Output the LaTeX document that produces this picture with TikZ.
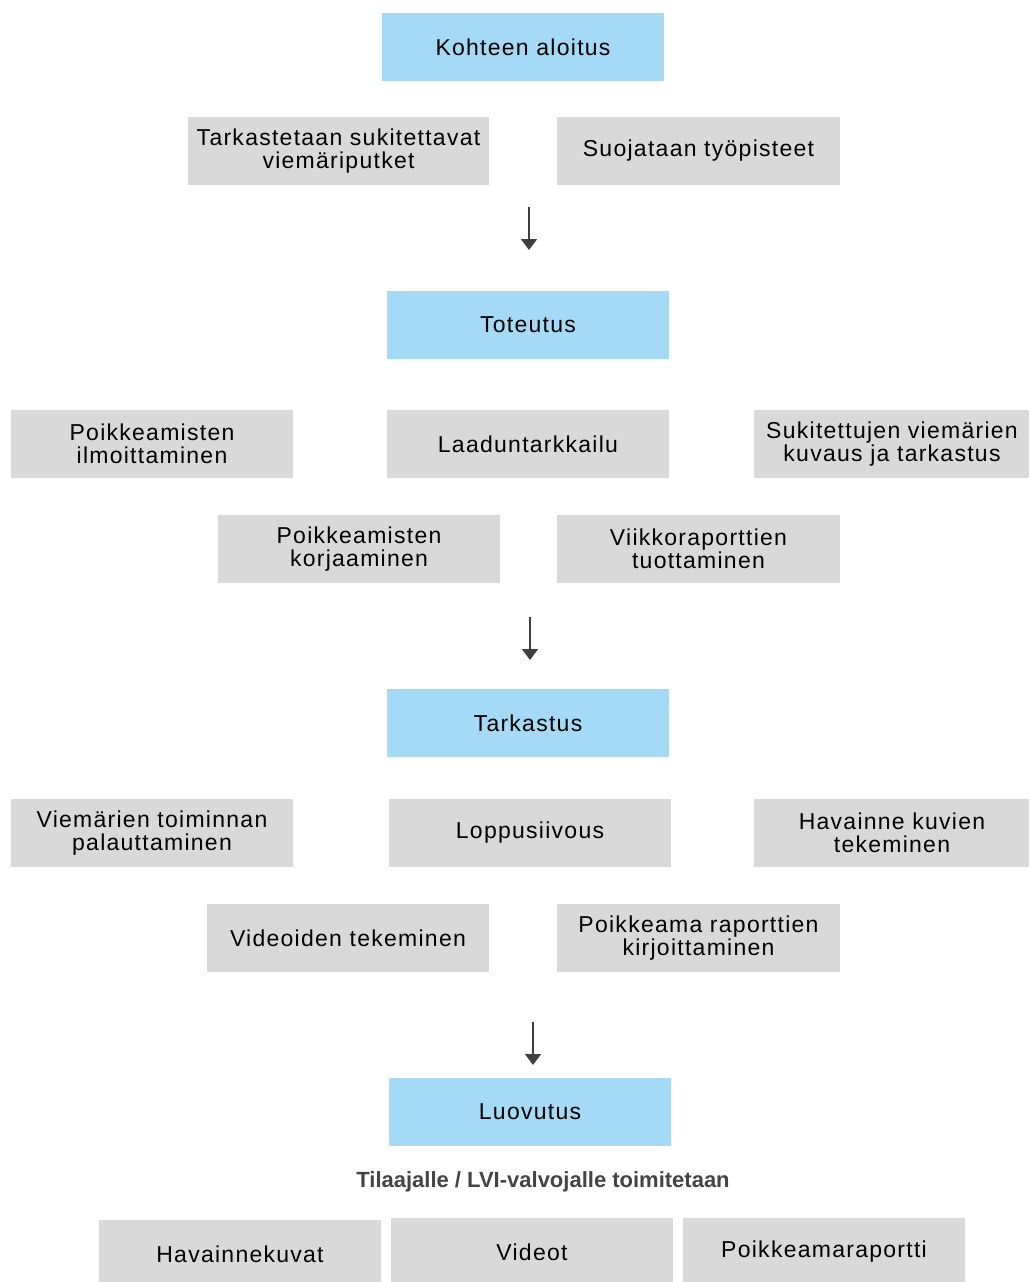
\documentclass[tikz,border=0pt]{standalone}
\usepackage{fontspec}
\setmainfont{Liberation Sans}
\newfontfamily\boxfont[LetterSpace=5.5]{Liberation Sans}
\usetikzlibrary{arrows.meta}
\definecolor{phaseblue}{HTML}{A4DAF6}
\definecolor{taskgray}{HTML}{D9D9D9}
\definecolor{arrowgray}{HTML}{3F3F3F}
\definecolor{notegray}{HTML}{444444}
\tikzset{
	phase/.style={fill=phaseblue, minimum width=282pt, minimum height=68pt, inner sep=0pt, align=center, font=\boxfont\fontsize{23}{23.5}\selectfont},
	task/.style={fill=taskgray, minimum width=282pt, minimum height=68pt, inner sep=0pt, align=center, font=\boxfont\fontsize{23}{23.5}\selectfont},
	flow/.style={line width=1.6pt, color=arrowgray, -{Triangle[length=11pt, width=16pt]}}
}

\begin{document}
\begin{tikzpicture}[x=1pt, y=-1pt]
		%%%%% START %%%%%
		
		\useasboundingbox (0, 0) rectangle (1029, 1282);
		\clip (0, 0) rectangle (1029, 1282);
		
		\node[phase] (aloitus) at (523, 47) {Kohteen aloitus};
		\node[task, minimum width=301pt] (tarkastetaan) at (338.5, 151) {Tarkastetaan sukitettavat\\viemäriputket};
		\node[task, minimum width=283pt] (suojataan) at (698.5, 151) {Suojataan työpisteet};
		
		\coordinate (a1) at (529, 207);
		\coordinate (b1) at (529, 250);
		\draw[flow] (a1) -- (b1);
		
		\node[phase] (toteutus) at (528, 325) {Toteutus};
		\node[task] (ilmoittaminen) at (152, 444) {Poikkeamisten\\ilmoittaminen};
		\node[task] (laadunt) at (528, 444) {Laaduntarkkailu};
		\node[task, minimum width=276pt] (kuvaus) at (892, 444) {Sukitettujen viemärien\\kuvaus ja tarkastus};
		\node[task] (korjaaminen) at (359, 549) {Poikkeamisten\\korjaaminen};
		\node[task, minimum width=283pt] (viikko) at (698.5, 549) {Viikkoraporttien\\tuottaminen};
		
		\coordinate (a2) at (530, 617);
		\coordinate (b2) at (530, 660);
		\draw[flow] (a2) -- (b2);
		
		\node[phase] (tarkastus) at (528, 723) {Tarkastus};
		\node[task] (palauttaminen) at (152, 833) {Viemärien toiminnan\\palauttaminen};
		\node[task] (loppusiivous) at (530, 833) {Loppusiivous};
		\node[task, minimum width=276pt] (havainne) at (892, 833) {Havainne kuvien\\tekeminen};
		\node[task] (videoiden) at (348, 938) {Videoiden tekeminen};
		\node[task, minimum width=283pt] (raporttien) at (698.5, 938) {Poikkeama raporttien\\kirjoittaminen};
		
		\coordinate (a3) at (533, 1022);
		\coordinate (b3) at (533, 1065);
		\draw[flow] (a3) -- (b3);
		
		\node[phase] (luovutus) at (530, 1112) {Luovutus};
		\node[font=\fontsize{22}{23}\selectfont\bfseries, color=notegray] (toimitetaan) at (543, 1182) {Tilaajalle / LVI-valvojalle toimitetaan};
		
		\node[task] (kuvat) at (240, 1254) {Havainnekuvat};
		\node[task] (videot) at (532, 1252) {Videot};
		\node[task] (raportti) at (824, 1252) {Poikkeamaraportti};
		
		%%%%% END %%%%%
	\end{tikzpicture}
\end{document}
